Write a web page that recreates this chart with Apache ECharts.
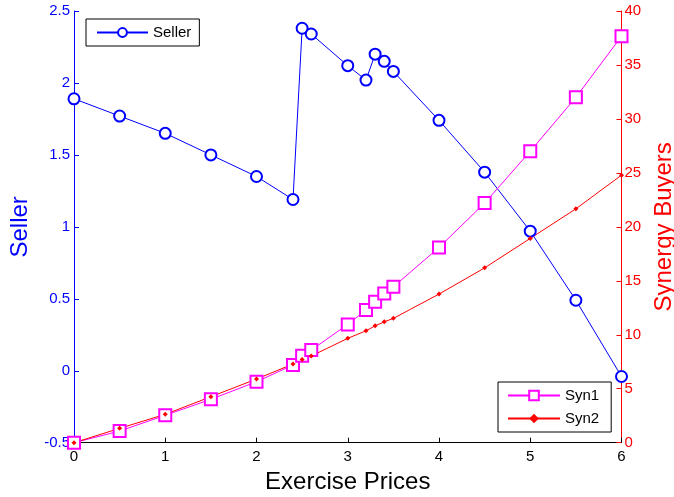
<!DOCTYPE html>
<html><head><meta charset="utf-8">
<script src="https://cdn.jsdelivr.net/npm/echarts@6/dist/echarts.min.js"></script>
<style>html,body{margin:0;padding:0;background:#fff}#c{width:674px;height:497px}</style>
</head><body><div id="c"></div>
<script>
const prices = [0, 0.5, 1, 1.5, 2, 2.4, 2.5, 2.6, 3, 3.2, 3.3, 3.4, 3.5, 4, 4.5, 5, 5.5, 6];
const seller = [1.89, 1.77, 1.65, 1.50, 1.35, 1.19, 2.38, 2.34, 2.12, 2.02, 2.20, 2.15, 2.08, 1.74, 1.38, 0.97, 0.49, -0.04];
const syn1 = [0, 1.08, 2.54, 4.02, 5.65, 7.2, 8.05, 8.58, 10.96, 12.29, 13.05, 13.83, 14.44, 18.09, 22.2, 27.0, 32.0, 37.66];
const syn2 = [0, 1.33, 2.63, 4.26, 5.9, 7.29, 7.72, 8.03, 9.67, 10.37, 10.83, 11.2, 11.52, 13.77, 16.2, 18.93, 21.67, 24.79];
const leftTicks = ['-0.5', '0', '0.5', '1', '1.5', '2', '2.5'];

const pair = (ys) => prices.map((x, i) => [x, ys[i]]);
const font = 'Liberation Sans, Arial, sans-serif';
const chart = echarts.init(document.getElementById('c'));
chart.setOption({
  animation: false,
  backgroundColor: '#fff',
  grid: { left: 74, right: 52.5, top: 11, bottom: 54.3, containLabel: false, outerBoundsMode: 'none' },
  legend: [
    { data: ['Seller'], left: 86, top: 19, orient: 'vertical', borderColor: '#000', borderWidth: 1,
      backgroundColor: '#fff', padding: [6, 8, 6, 10], itemWidth: 51, itemHeight: 11, itemGap: 8, borderRadius: 0,
      textStyle: { fontFamily: font, fontSize: 15, color: '#000' } },
    { data: ['Syn1', 'Syn2'], left: 498, top: 382, orient: 'vertical', borderColor: '#000', borderWidth: 1,
      backgroundColor: '#fff', padding: [6, 12, 6, 9], itemGap: 8, itemWidth: 52, itemHeight: 12, borderRadius: 0,
      textStyle: { fontFamily: font, fontSize: 15, color: '#000' } }
  ],
  xAxis: {
    type: 'value', min: 0, max: 6, interval: 1,
    name: 'Exercise Prices', nameLocation: 'middle', nameGap: 28,
    nameTextStyle: { fontFamily: font, fontSize: 24, color: '#000' },
    axisLine: { onZero: false, lineStyle: { color: '#000', width: 1 } },
    axisTick: { inside: true, length: 5, lineStyle: { color: '#000' } },
    axisLabel: { fontFamily: font, fontSize: 15, color: '#000', margin: 7 },
    splitLine: { show: false }
  },
  yAxis: [
    { type: 'value', min: -0.5, max: 2.5, interval: 0.5, position: 'left',
      name: 'Seller', nameLocation: 'middle', nameGap: 42,
      nameTextStyle: { fontFamily: font, fontSize: 24, color: '#0000FF' },
      axisLine: { show: true, onZero: false, lineStyle: { color: '#0000FF', width: 1 } },
      axisTick: { show: true, inside: true, length: 5, lineStyle: { color: '#0000FF' } },
      axisLabel: { fontFamily: font, fontSize: 15, color: '#0000FF', margin: 4,
        formatter: (v) => { const s = String(Math.round(v * 10) / 10); return leftTicks.includes(s) ? s : ''; } },
      splitLine: { show: false } },
    { type: 'value', min: 0, max: 40, interval: 5, position: 'right',
      name: 'Synergy Buyers', nameLocation: 'middle', nameGap: 29, nameRotate: 90,
      nameTextStyle: { fontFamily: font, fontSize: 24, color: '#FF0000' },
      axisLine: { show: true, onZero: false, lineStyle: { color: '#FF0000', width: 1 } },
      axisTick: { show: true, inside: true, length: 5, lineStyle: { color: '#FF0000' } },
      axisLabel: { fontFamily: font, fontSize: 15, color: '#FF0000', margin: 3 },
      splitLine: { show: false } }
  ],
  series: [
    { name: 'Seller', type: 'line', yAxisIndex: 0, data: pair(seller),
      symbol: 'emptyCircle', symbolSize: 11, showAllSymbol: true,
      lineStyle: { color: '#0000FF', width: 1 }, itemStyle: { color: '#0000FF', borderColor: '#0000FF', borderWidth: 1 } },
    { name: 'Syn1', type: 'line', yAxisIndex: 1, data: pair(syn1),
      symbol: 'emptyRect', symbolSize: 12, showAllSymbol: true,
      lineStyle: { color: '#FF00FF', width: 1 }, itemStyle: { color: '#FF00FF', borderColor: '#FF00FF', borderWidth: 1 } },
    { name: 'Syn2', type: 'line', yAxisIndex: 1, data: pair(syn2),
      symbol: 'diamond', symbolSize: 5, showAllSymbol: true,
      lineStyle: { color: '#FF0000', width: 1 }, itemStyle: { color: '#FF0000' } }
  ]
});
</script></body></html>
